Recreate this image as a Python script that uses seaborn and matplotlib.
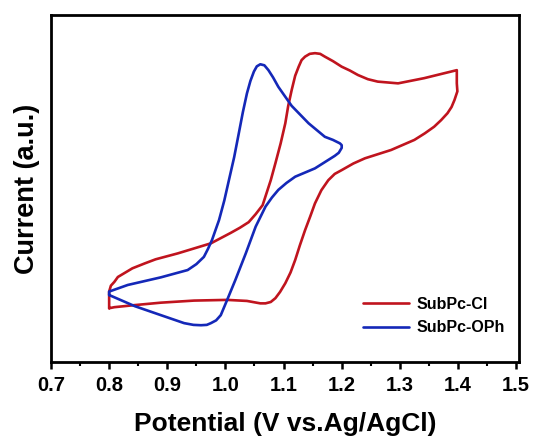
import matplotlib
matplotlib.use("Agg")
import matplotlib.pyplot as plt
import seaborn as sns
import pandas as pd
from matplotlib.ticker import MultipleLocator

# SubPc-Cl cyclic voltammogram (potential in V, current in a.u.), traced in loop order
cl_potential = [0.800, 0.809, 0.844, 0.889, 0.946, 1.003, 1.037, 1.060, 1.069, 1.078,
                1.086, 1.094, 1.103, 1.112, 1.120, 1.128, 1.137, 1.146, 1.154, 1.165,
                1.177, 1.188, 1.200, 1.220, 1.240, 1.285, 1.325, 1.343, 1.359, 1.371,
                1.382, 1.389, 1.394, 1.399, 1.398, 1.398, 1.376, 1.342, 1.297, 1.262,
                1.245, 1.228, 1.214, 1.200, 1.185, 1.171, 1.163, 1.154, 1.145, 1.137,
                1.131, 1.126, 1.120, 1.114, 1.108, 1.103, 1.095, 1.086, 1.078, 1.064,
                1.052, 1.040, 1.025, 1.009, 0.975, 0.918, 0.880, 0.861, 0.840, 0.826,
                0.815, 0.809, 0.803, 0.800, 0.800]
cl_current = [15.5, 15.8, 16.4, 17.1, 17.7, 17.9, 17.6, 16.9, 16.9, 17.3,
              18.4, 20.2, 22.7, 25.8, 29.4, 33.6, 38.0, 42.0, 45.7, 49.5,
              52.4, 54.2, 55.3, 57.2, 58.7, 61.1, 64.0, 65.9, 67.8, 69.7,
              71.7, 73.5, 75.5, 78.0, 80.3, 84.1, 83.2, 81.8, 80.3, 80.8,
              81.5, 82.7, 84.0, 85.1, 86.7, 88.0, 88.8, 89.0, 88.8, 88.0,
              87.0, 85.1, 82.5, 78.4, 73.8, 68.8, 63.0, 57.3, 52.4, 45.2,
              42.6, 40.3, 38.7, 37.2, 34.2, 31.3, 29.6, 28.4, 27.0, 25.6,
              24.5, 23.1, 22.0, 20.3, 15.5]

# SubPc-OPh cyclic voltammogram
oph_potential = [0.800, 0.844, 0.889, 0.929, 0.945, 0.958, 0.968, 0.975, 0.984, 0.992,
                 1.003, 1.017, 1.035, 1.052, 1.069, 1.080, 1.091, 1.105, 1.120, 1.154,
                 1.188, 1.195, 1.200, 1.200, 1.197, 1.185, 1.171, 1.143, 1.114, 1.091,
                 1.082, 1.074, 1.067, 1.060, 1.054, 1.049, 1.043, 1.037, 1.030, 1.023,
                 1.015, 1.006, 0.998, 0.989, 0.977, 0.970, 0.963, 0.950, 0.935, 0.889,
                 0.832, 0.800, 0.800]
oph_current = [19.3, 16.1, 13.5, 11.2, 10.7, 10.6, 10.7, 11.2, 12.0, 13.5,
               17.9, 23.6, 31.3, 39.0, 44.8, 47.4, 49.6, 51.6, 53.4, 55.8,
               59.4, 60.3, 61.7, 62.5, 63.0, 64.0, 64.9, 68.8, 73.8, 79.3,
               82.0, 84.1, 85.5, 85.8, 85.2, 83.7, 81.0, 77.4, 72.0, 65.9,
               59.0, 52.4, 46.5, 40.9, 35.2, 32.6, 30.3, 28.2, 26.5, 24.4,
               22.2, 20.3, 19.3]

sns.set_style("white")
plt.rcParams['font.family'] = ['Liberation Sans', 'DejaVu Sans']
plt.rcParams['font.weight'] = 'bold'
plt.rcParams['text.color'] = 'black'
plt.rcParams['axes.labelcolor'] = 'black'
plt.rcParams['xtick.color'] = 'black'

df = pd.concat([
    pd.DataFrame({'V': cl_potential, 'I': cl_current, 'sample': 'SubPc-Cl'}),
    pd.DataFrame({'V': oph_potential, 'I': oph_current, 'sample': 'SubPc-OPh'}),
], ignore_index=True)

fig = plt.figure(figsize=(5.37, 4.37), dpi=100)
ax = fig.add_axes([0.095, 0.1716, 0.8715, 0.7941])

sns.lineplot(data=df, x='V', y='I', hue='sample', sort=False, estimator=None,
             palette=['#C0141E', '#1428B8'], linewidth=1.9, ax=ax)

ax.set_xlim(0.7, 1.505)
ax.set_ylim(0, 100)
ax.xaxis.set_minor_locator(MultipleLocator(0.05))
ax.set_xticks([0.7, 0.8, 0.9, 1.0, 1.1, 1.2, 1.3, 1.4, 1.5])
ax.set_xticklabels(['0.7', '0.8', '0.9', '1.0', '1.1', '1.2', '1.3', '1.4', '1.5'])
ax.set_yticks([])
ax.tick_params(axis='x', which='major', direction='out', length=5, width=1.8,
               labelsize=14.5, pad=5, bottom=True, colors='black')
ax.tick_params(axis='x', which='minor', direction='out', length=3, width=1.5,
               bottom=True, colors='black')
for lbl in ax.get_xticklabels():
    lbl.set_fontweight('bold')
for s in ax.spines.values():
    s.set_linewidth(2)
    s.set_color('black')

ax.set_xlabel('Potential (V vs.Ag/AgCl)', fontsize=19, fontweight='bold', labelpad=12)
ax.set_ylabel('Current (a.u.)', fontsize=19.5, fontweight='bold', labelpad=8)

leg = ax.legend(loc='lower right', bbox_to_anchor=(1.0, 0.035), frameon=False,
                fontsize=11.5, handlelength=2.9, handletextpad=0.45, labelspacing=0.55)
for t in leg.get_texts():
    t.set_fontweight('bold')
    t.set_color('black')

fig.savefig('out.png', dpi=100)
